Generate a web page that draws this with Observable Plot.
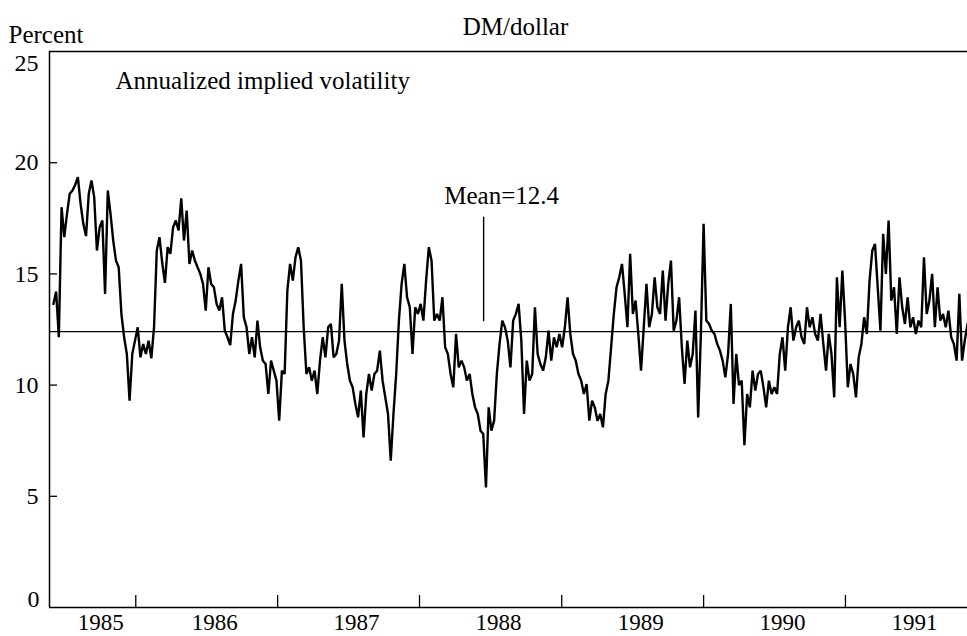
<!DOCTYPE html>
<html>
<head>
<meta charset="utf-8">
<script src="https://cdn.jsdelivr.net/npm/d3@7"></script>
<script src="https://cdn.jsdelivr.net/npm/@observablehq/plot@0.6"></script>
<style>
  html, body { margin: 0; padding: 0; background: #fff; }
  #chart svg { display: block; }
</style>
</head>
<body>
<div id="chart"></div>
<script>
// ---- Data ----
const chartTitle = "DM/dollar";
const yAxisLabel = "Percent";
const seriesLabel = "Annualized implied volatility";
const meanLabel = "Mean=12.4";
const meanValue = 12.4;

// weekly samples of DM/dollar annualized implied volatility (percent)
const seriesStart = "1985-06-03";
const stepDays = 7;
const volatility = [
  13.65, 14.2, 12.15, 18.0, 16.65, 17.7, 18.6, 18.75, 19.0, 19.35,
  18.15, 17.25, 16.7, 18.6, 19.2, 18.45, 16.05, 17.1, 17.4, 14.1,
  18.75, 17.7, 16.5, 15.6, 15.3, 13.2, 12.15, 11.4, 9.3, 11.4,
  12.0, 12.6, 11.25, 11.85, 11.4, 12.0, 11.2, 12.6, 16.05, 16.65,
  15.5, 14.6, 16.2, 15.9, 17.1, 17.4, 16.95, 18.4, 16.5, 17.85,
  15.45, 16.05, 15.6, 15.3, 15.0, 14.55, 13.35, 15.3, 14.55, 14.4,
  13.65, 13.35, 13.95, 12.45, 12.15, 11.8, 13.2, 13.8, 14.7, 15.45,
  13.05, 12.6, 11.4, 12.15, 11.25, 12.9, 11.7, 11.1, 10.95, 9.6,
  11.1, 10.65, 10.2, 8.4, 10.65, 10.5, 14.25, 15.45, 14.7, 15.75,
  16.2, 15.6, 12.6, 10.5, 10.8, 10.2, 10.65, 9.6, 11.1, 12.15,
  11.25, 12.6, 12.75, 11.25, 11.4, 12.0, 14.55, 12.0, 10.95, 10.2,
  9.9, 9.15, 8.55, 9.75, 7.65, 9.6, 10.5, 9.75, 10.5, 10.65,
  11.55, 10.2, 9.45, 8.7, 6.6, 8.7, 10.5, 12.9, 14.55, 15.45,
  13.95, 13.5, 11.4, 13.5, 13.2, 13.65, 12.9, 14.7, 16.2, 15.6,
  12.9, 13.2, 12.9, 13.95, 11.7, 11.4, 10.5, 9.9, 12.3, 10.8,
  11.1, 10.8, 10.2, 10.5, 9.6, 9.0, 8.7, 7.95, 7.8, 5.4,
  9.0, 7.95, 8.4, 10.5, 11.85, 12.9, 12.6, 12.0, 10.8, 12.9,
  13.2, 13.65, 12.0, 8.7, 11.1, 10.2, 10.5, 13.5, 11.4, 10.95,
  10.65, 11.25, 12.45, 11.1, 12.15, 11.7, 12.3, 11.7, 12.6, 13.95,
  12.3, 11.4, 11.1, 10.5, 10.2, 9.6, 10.05, 8.4, 9.3, 9.0,
  8.4, 8.7, 8.1, 9.6, 10.2, 11.7, 13.2, 14.4, 14.85, 15.45,
  14.1, 12.6, 15.9, 13.2, 13.8, 12.3, 10.65, 12.6, 14.55, 12.6,
  13.2, 14.85, 13.5, 13.2, 15.15, 12.9, 14.55, 15.6, 12.45, 12.9,
  13.95, 11.7, 10.05, 12.0, 10.8, 11.4, 13.35, 8.55, 12.3, 17.25,
  12.9, 12.75, 12.45, 12.3, 11.85, 11.55, 11.1, 10.35, 11.4, 13.65,
  9.15, 11.4, 10.0, 10.2, 7.3, 9.6, 9.0, 10.65, 9.75, 10.5,
  10.65, 9.9, 9.0, 10.2, 9.6, 9.9, 9.6, 11.4, 12.15, 10.65,
  12.6, 13.5, 12.0, 12.6, 12.9, 12.15, 11.85, 13.5, 12.6, 13.05,
  12.3, 12.0, 13.2, 11.85, 10.65, 12.3, 11.4, 9.45, 14.85, 12.6,
  15.15, 12.9, 9.9, 10.95, 10.5, 9.45, 11.25, 11.85, 13.05, 12.3,
  14.7, 16.05, 16.35, 14.4, 12.45, 16.8, 15.0, 17.4, 13.8, 14.4,
  12.3, 14.85, 13.5, 12.75, 13.95, 12.6, 13.05, 12.3, 12.9, 12.6,
  15.75, 13.2, 13.8, 15.0, 12.6, 14.4, 12.9, 13.2, 12.6, 13.35,
  12.15, 11.85, 11.1, 14.1, 11.1, 12.0, 12.75
];

const yTickValues = [0, 5, 10, 15, 20, 25];
const yearLabels = [1985, 1986, 1987, 1988, 1989, 1990, 1991];
const xDomainDates = ["1985-05-24", "1991-11-11"];
const yDomain = [0, 25];

// annotation pointer to the mean line
const annotationDate = "1988-06-14";
const annotationTop = 17.55;
const annotationBottom = 12.85;

// ---- Build ----
const W = 967, H = 636;
const mL = 49, mR = 0, mT = 51, mB = 29;
const frameW = W - mL - mR, frameH = H - mT - mB;

const utc = s => new Date(s + "T00:00:00Z");
const start = utc(seriesStart);
const data = volatility.map((v, i) => ({date: d3.utcDay.offset(start, i * stepDays), value: v}));
const d0 = utc(xDomainDates[0]), d1 = utc(xDomainDates[1]);

const yearTicks = yearLabels.slice(1).map(y => new Date(Date.UTC(y, 0, 1)));
const yearLabelData = yearLabels.map(y => {
  const a = Math.max(+new Date(Date.UTC(y, 0, 1)), +d0);
  const b = Math.min(+new Date(Date.UTC(y + 1, 0, 1)), +d1);
  return {label: String(y), mid: new Date((a + b) / 2)};
});
const annDate = utc(annotationDate);

const midTicks = yTickValues.filter(v => v > yDomain[0] && v < yDomain[1]);
const font = "'Liberation Serif', 'DejaVu Serif', serif";
const wordSize = 25, numSize = 24, yearSize = 23;

const chart = Plot.plot({
  width: W,
  height: H,
  marginLeft: mL,
  marginRight: mR,
  marginTop: mT,
  marginBottom: mB,
  style: {fontFamily: font, fontSize: "24px", background: "#fff", color: "#000"},
  x: {type: "utc", domain: [d0, d1], axis: null},
  y: {domain: yDomain, axis: null},
  marks: [
    // frame (left, top, bottom)
    Plot.ruleX([d0], {stroke: "#000", strokeWidth: 1.5}),
    Plot.ruleY([yDomain[1]], {stroke: "#000", strokeWidth: 1.5}),
    Plot.ruleY([yDomain[0]], {stroke: "#000", strokeWidth: 1.5}),
    // inward ticks
    Plot.tickY(midTicks, {y: d => d, stroke: "#000", strokeWidth: 1.3, insetRight: frameW - 8}),
    Plot.tickX(yearTicks, {x: d => d, stroke: "#000", strokeWidth: 1.3, insetTop: frameH - 12}),
    // mean line
    Plot.ruleY([meanValue], {stroke: "#000", strokeWidth: 1.3}),
    // series
    Plot.line(data, {x: "date", y: "value", stroke: "#000", strokeWidth: 2.4, strokeLinejoin: "miter", strokeMiterlimit: 2}),
    // annotation pointer
    Plot.ruleX([annDate], {y1: annotationBottom, y2: annotationTop, stroke: "#000", strokeWidth: 1.4}),
    Plot.text([meanLabel], {x: annDate, y: annotationTop, text: d => d, dx: 18, dy: -21, textAnchor: "middle", lineAnchor: "middle", fontSize: wordSize, fill: "#000"}),
    // y tick labels
    Plot.text(midTicks, {y: d => d, text: d => String(d), frameAnchor: "left", textAnchor: "end", lineAnchor: "middle", dx: -11, fontSize: numSize, fill: "#000"}),
    Plot.text([yDomain[1]], {y: d => d, text: d => String(d), frameAnchor: "left", textAnchor: "end", lineAnchor: "middle", dx: -11, dy: 12, fontSize: numSize, fill: "#000"}),
    Plot.text([yDomain[0]], {y: d => d, text: d => String(d), frameAnchor: "left", textAnchor: "end", lineAnchor: "middle", dx: -10, dy: -8, fontSize: numSize, fill: "#000"}),
    // year labels
    Plot.text(yearLabelData, {x: "mid", text: "label", frameAnchor: "bottom", lineAnchor: "middle", dy: 15, dx: 8, fontSize: yearSize, fill: "#000"}),
    // titles
    Plot.text([chartTitle], {text: d => d, frameAnchor: "top", lineAnchor: "middle", dx: 7, dy: -25, fontSize: wordSize, fill: "#000"}),
    Plot.text([yAxisLabel], {text: d => d, frameAnchor: "top-left", textAnchor: "start", lineAnchor: "middle", dx: -41, dy: -17, fontSize: wordSize, fill: "#000"}),
    Plot.text([seriesLabel], {text: d => d, frameAnchor: "top-left", textAnchor: "start", lineAnchor: "middle", dx: 66, dy: 29, fontSize: wordSize, fill: "#000"})
  ]
});
document.getElementById("chart").append(chart);
</script>
</body>
</html>
